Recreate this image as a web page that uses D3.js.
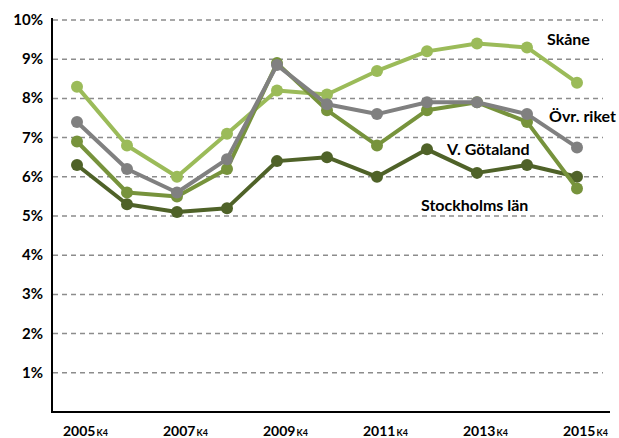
<!DOCTYPE html>
<html>
<head>
<meta charset="utf-8">
<style>
  body { margin: 0; background: #fff; }
  text { font-family: Lato, "Liberation Sans", sans-serif; font-weight: bold; fill: #000; }
</style>
</head>
<body>
<svg id="chart" width="619" height="438"></svg>
<script src="https://cdn.jsdelivr.net/npm/d3@7"></script>
<script>
const years = ["2005","2006","2007","2008","2009","2010","2011","2012","2013","2014","2015"]
const tickYears = ["2005","2007","2009","2011","2013","2015"]
const yTicks = [1,2,3,4,5,6,7,8,9,10]

const skane = [8.3, 6.8, 6.0, 7.1, 8.2, 8.1, 8.7, 9.2, 9.4, 9.3, 8.4]
const ovrRiket = [7.4, 6.2, 5.6, 6.45, 8.85, 7.85, 7.6, 7.9, 7.9, 7.6, 6.75]
const vGotaland = [6.9, 5.6, 5.5, 6.2, 8.9, 7.7, 6.8, 7.7, 7.9, 7.4, 5.7]
const stockholm = [6.3, 5.3, 5.1, 5.2, 6.4, 6.5, 6.0, 6.7, 6.1, 6.3, 6.0]

const series = [
  { name: "Skåne", values: skane, color: "#9bbb59", lx: 547, ly: 45 },
  { name: "Stockholms län", values: stockholm, color: "#4f6228", lx: 421, ly: 211 },
  { name: "V. Götaland", values: vGotaland, color: "#77933c", lx: 447, ly: 155 },
  { name: "Övr. riket", values: ovrRiket, color: "#808080", lx: 549, ly: 122 }
]

const svg = d3.select("#chart")

let x = d3.scalePoint().domain(years).range([77, 577])
let y = d3.scaleLinear().domain([0, 10]).range([412, 20])

// dashed grid lines
svg.selectAll(".grid")
  .data(yTicks)
  .enter().append("line")
  .attr("x1", 53).attr("x2", 603)
  .attr("y1", d => y(d)).attr("y2", d => y(d))
  .attr("stroke", "#8c8c8c")
  .attr("stroke-width", 1.5)
  .attr("stroke-dasharray", "5,4")

// y tick labels
svg.selectAll(".ylab")
  .data(yTicks)
  .enter().append("text")
  .attr("x", 43)
  .attr("y", d => y(d) + 5)
  .attr("text-anchor", "end")
  .attr("font-size", 15)
  .text(d => d + "%")

// axes
svg.append("line").attr("x1", 52).attr("x2", 52).attr("y1", 18).attr("y2", 413)
  .attr("stroke", "#000").attr("stroke-width", 2)
svg.append("line").attr("x1", 51).attr("x2", 610).attr("y1", 412).attr("y2", 412)
  .attr("stroke", "#000").attr("stroke-width", 2)

// x labels with K4 subscript
let xl = svg.selectAll(".xlab")
  .data(tickYears)
  .enter().append("text")
  .attr("x", d => x(d) - 14)
  .attr("y", 436)
  .attr("font-size", 14)
xl.append("tspan").text(d => d)
xl.append("tspan").attr("font-size", 9).attr("dx", 1).text("K4")

let line = d3.line()
  .x((d, i) => x(years[i]))
  .y(d => y(d))

let g = svg.selectAll(".series")
  .data(series)
  .enter().append("g")

g.append("path")
  .attr("d", d => line(d.values))
  .attr("fill", "none")
  .attr("stroke", d => d.color)
  .attr("stroke-width", 4)
  .attr("stroke-linejoin", "round")

g.each(function(s) {
  d3.select(this).selectAll("circle")
    .data(s.values)
    .enter().append("circle")
    .attr("cx", (d, i) => x(years[i]))
    .attr("cy", d => y(d))
    .attr("r", 6)
    .attr("fill", s.color)
})

svg.selectAll(".slab")
  .data(series)
  .enter().append("text")
  .attr("x", d => d.lx)
  .attr("y", d => d.ly)
  .attr("font-size", 16)
  .text(d => d.name)
</script>
</body>
</html>
